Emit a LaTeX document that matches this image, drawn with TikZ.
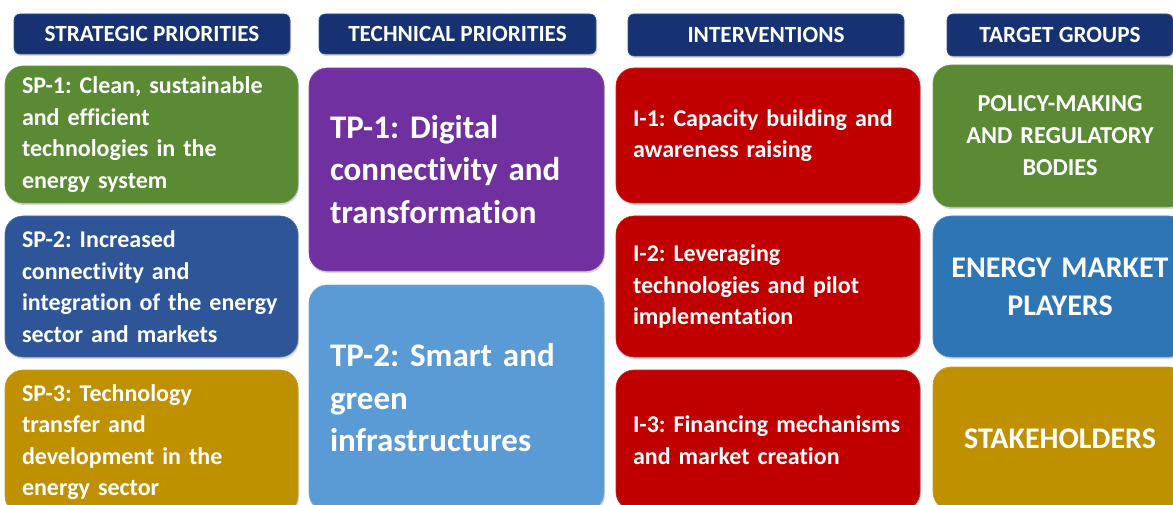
\documentclass[tikz,border=0pt]{standalone}
\usepackage{fontspec}
\setmainfont[Ligatures=NoCommon]{Carlito}
\usetikzlibrary{positioning,shadows}
\frenchspacing

\definecolor{headblue}{RGB}{22,50,115}
\definecolor{spgreen}{RGB}{90,138,52}
\definecolor{spblue}{RGB}{46,85,151}
\definecolor{spgold}{RGB}{191,144,0}
\definecolor{tppurple}{RGB}{112,48,160}
\definecolor{tplight}{RGB}{91,155,213}
\definecolor{ired}{RGB}{192,0,0}
\definecolor{tgblue}{RGB}{46,117,182}
\colorlet{boxfill}{spgreen}
\pgfdeclareverticalshading[boxfill]{glossy}{100bp}{color(0bp)=(boxfill!85!black); color(8bp)=(boxfill); color(90bp)=(boxfill); color(100bp)=(boxfill!55!white)}

\begin{document}
\begin{tikzpicture}[x=1pt,y=-1pt,
  box/.style={/utils/exec={\colorlet{boxfill}{#1}}, shade, shading=glossy, draw=#1!85!white, line width=0.6pt,
    rounded corners=18pt, text=white, outer sep=0pt, inner xsep=17pt, inner ysep=0pt,
    drop shadow={opacity=0.3, shadow xshift=1pt, shadow yshift=-2pt}},
  head/.style={box=headblue, rounded corners=6pt, inner xsep=0pt, anchor=north west,
    font=\fontsize{23.2}{23.2}\selectfont\bfseries},
  sp/.style={box=#1, minimum width=293, text width=259pt, align=left,
    font=\fontsize{24}{31.5}\selectfont\bfseries},
  tp/.style={box=#1, minimum width=295, inner xsep=21pt, text width=253pt, align=left,
    font=\fontsize{33}{42.5}\selectfont\bfseries},
  iv/.style={box=ired, minimum width=304, text width=270pt, align=left,
    font=\fontsize{24}{31.5}\selectfont\bfseries},
  tg/.style={box=#1, minimum width=254, inner xsep=4pt, text width=246pt, align=center,
    font=\fontsize{24.3}{32}\selectfont\bfseries},
  node distance=13pt]
\useasboundingbox (0,0) rectangle (1173,505);

% column headers
\node[head, minimum width=276, minimum height=40] (hsp) at (14,14) {STRATEGIC PRIORITIES};
\node[head, minimum width=277, minimum height=40] (htp) at (319,14) {TECHNICAL PRIORITIES};
\node[head, minimum width=276, minimum height=42] (hiv) at (628,14) {INTERVENTIONS};
\node[head, minimum width=226, minimum height=42] (htg) at (947,14) {TARGET GROUPS};

% strategic priorities
\node[sp=spgreen, minimum height=137, anchor=north west] (sp1) at (5,66)
  {SP-1: Clean, sustainable\\ and efficient\\ technologies in the\\ energy system};
\node[sp=spblue, minimum height=141, below=of sp1] (sp2)
  {SP-2: Increased\\ connectivity and\\ integration of the energy\\ sector and markets};
\node[sp=spgold, minimum height=144, below=of sp2] (sp3)
  {SP-3: Technology\\ transfer and\\ development in the\\ energy sector};

% technical priorities
\node[tp=tppurple, minimum height=203, anchor=north west] (tp1) at (309,68)
  {TP-1: Digital\\ connectivity and\\ transformation};
\node[tp=tplight, minimum height=226, below=14pt of tp1] (tp2)
  {TP-2: Smart and\\ green\\ infrastructures};

% interventions
\node[iv, minimum height=135, anchor=north west] (iv1) at (616,68)
  {I-1: Capacity building and\\ awareness raising};
\node[iv, minimum height=141, below=of iv1] (iv2)
  {I-2: Leveraging\\ technologies and pilot\\ implementation};
\node[iv, minimum height=140, below=of iv2] (iv3)
  {I-3: Financing mechanisms\\ and market creation};

% target groups
\node[tg=spgreen, minimum height=142, anchor=north west] (tg1) at (933,65)
  {POLICY-MAKING\\ AND REGULATORY\\ BODIES};
\node[tg=tgblue, minimum height=141, below=9pt of tg1, font=\fontsize{30}{38}\selectfont\bfseries] (tg2)
  {ENERGY MARKET\\ PLAYERS};
\node[tg=spgold, minimum height=143, below=10pt of tg2, font=\fontsize{30}{38}\selectfont\bfseries] (tg3)
  {STAKEHOLDERS};
\end{tikzpicture}
\end{document}
